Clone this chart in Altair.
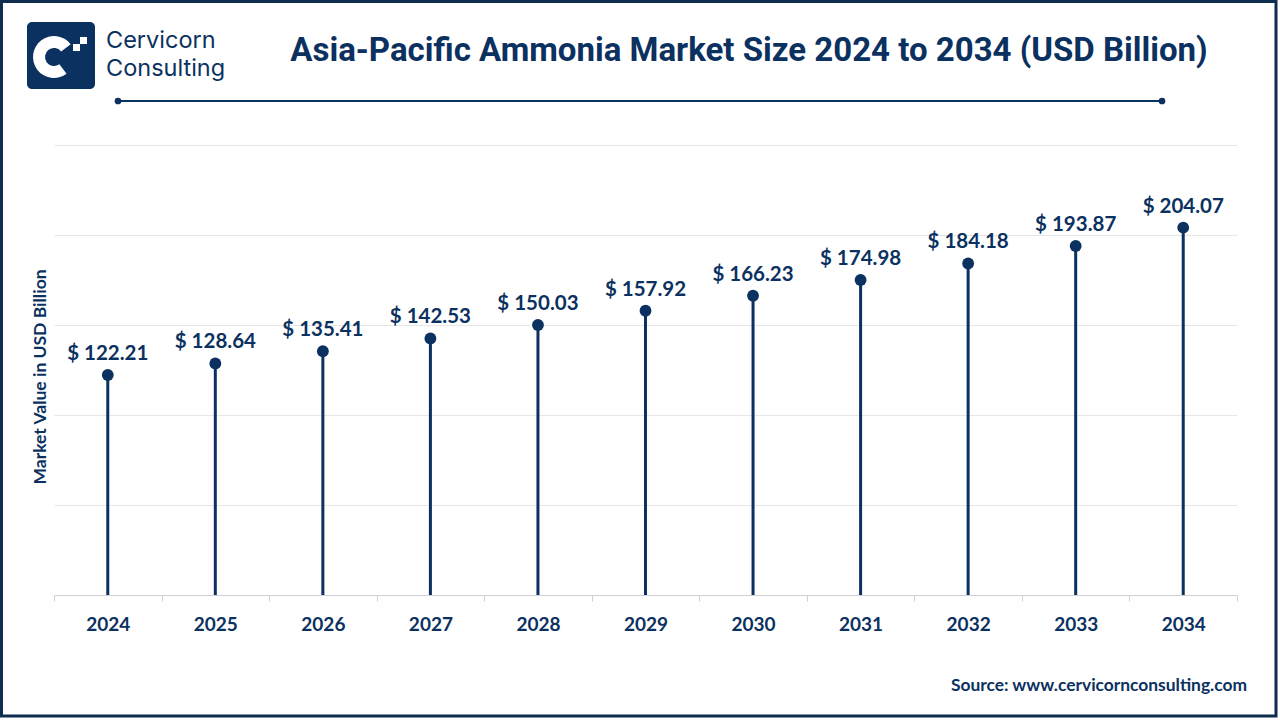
import altair as alt
import pandas as pd

years = ["2024", "2025", "2026", "2027", "2028", "2029", "2030", "2031", "2032", "2033", "2034"]
values = [122.21, 128.64, 135.41, 142.53, 150.03, 157.92, 166.23, 174.98, 184.18, 193.87, 204.07]
y_ticks = [0, 50, 100, 150, 200, 250]

NAVY = "#0b3160"
PW, PH = 1183, 450
LEFT, TOP = 54, 145

df = pd.DataFrame({"year": years, "value": values})
df["label"] = ["$ " + f"{v:.2f}" for v in values]

xenc = alt.X("year:O", scale=alt.Scale(type="band", paddingInner=0, paddingOuter=0),
             bandPosition=0.5,
             axis=alt.Axis(title=None, tickBand="extent", labelAngle=0,
                           domainColor="#d0d0d0", tickColor="#d0d0d0", tickSize=6,
                           labelFont="Lato", labelFontSize=19, labelFontWeight="bold",
                           labelColor=NAVY, labelPadding=14, grid=False))
yenc = alt.Y("value:Q", scale=alt.Scale(domain=[0, 250]),
             axis=alt.Axis(title=None, values=y_ticks, labels=False, ticks=False,
                           domain=False, grid=True, gridColor="#e6e6e6", gridWidth=1))

base = alt.Chart(df)
stems = base.mark_rule(color=NAVY, strokeWidth=3).encode(x=xenc, y=yenc, y2=alt.datum(0))
dots = base.mark_circle(color=NAVY, size=140, opacity=1).encode(x=xenc, y=yenc)
labels = base.mark_text(font="Lato", fontSize=20.5, fontWeight="bold", color=NAVY,
                        dy=-21, baseline="middle").encode(x=xenc, y=yenc, text="label:N")

one = alt.Data(values=[{"a": 1}])

def px(x):
    return alt.value(x - LEFT)

def py(y):
    return alt.value(y - TOP)

frame = alt.Chart(one).mark_rect(fill=None, stroke="#0f2d4e", strokeWidth=3).encode(
    x=px(1.5), x2=px(1276), y=py(1.5), y2=py(716))

title = alt.Chart(one).mark_text(text="Asia-Pacific Ammonia Market Size 2024 to 2034 (USD Billion)",
                                 font="Roboto", fontSize=33, fontWeight="bold",
                                 color=NAVY, align="center", baseline="middle").encode(
    x=px(749), y=py(51))

deco_line = alt.Chart(one).mark_rule(color=NAVY, strokeWidth=2).encode(
    x=px(118), x2=px(1162), y=py(101))
deco_dot1 = alt.Chart(one).mark_circle(color=NAVY, size=45, opacity=1).encode(x=px(118), y=py(101))
deco_dot2 = alt.Chart(one).mark_circle(color=NAVY, size=45, opacity=1).encode(x=px(1162), y=py(101))

ytitle = alt.Chart(one).mark_text(text="Market Value in USD Billion", font="Lato",
                                  fontSize=17.5, fontWeight="bold", color=NAVY, angle=270,
                                  align="center", baseline="middle").encode(
    x=px(41), y=py(377))

source = alt.Chart(one).mark_text(text="Source: www.cervicornconsulting.com", font="Lato",
                                  fontSize=17.4, fontWeight="bold", color=NAVY, align="right",
                                  baseline="middle").encode(x=px(1247), y=py(686))

logo_box = alt.Chart(one).mark_rect(fill=NAVY, cornerRadius=5).encode(
    x=px(27), x2=px(95), y=py(22), y2=py(89))
logo_c = alt.Chart(one).mark_arc(fill="white", radius=21, radius2=9, theta=2.5, theta2=7.2).encode(
    x=px(54), y=py(57))
logo_sq1 = alt.Chart(one).mark_rect(fill="white").encode(x=px(80), x2=px(87), y=py(37), y2=py(44))
logo_sq2 = alt.Chart(one).mark_rect(fill="white").encode(x=px(73), x2=px(80), y=py(44), y2=py(51))
logo_text = alt.Chart(one).mark_text(text=["Cervicorn", "Consulting"], font="Inter", fontSize=23.5,
                                     lineHeight=28, color=NAVY, align="left",
                                     baseline="middle").encode(x=px(106), y=py(40.5))

chart = alt.layer(
    stems, dots, labels, frame, title, deco_line, deco_dot1, deco_dot2, ytitle, source,
    logo_box, logo_c, logo_sq1, logo_sq2, logo_text
).properties(
    width=PW, height=PH,
    autosize=alt.AutoSizeParams(type="none"),
    padding={"left": LEFT, "top": TOP, "right": 1280 - LEFT - PW, "bottom": 720 - TOP - PH},
    background="white",
).configure_view(stroke=None)

chart.save("out.html", embed_options={"renderer": "svg", "actions": False})
